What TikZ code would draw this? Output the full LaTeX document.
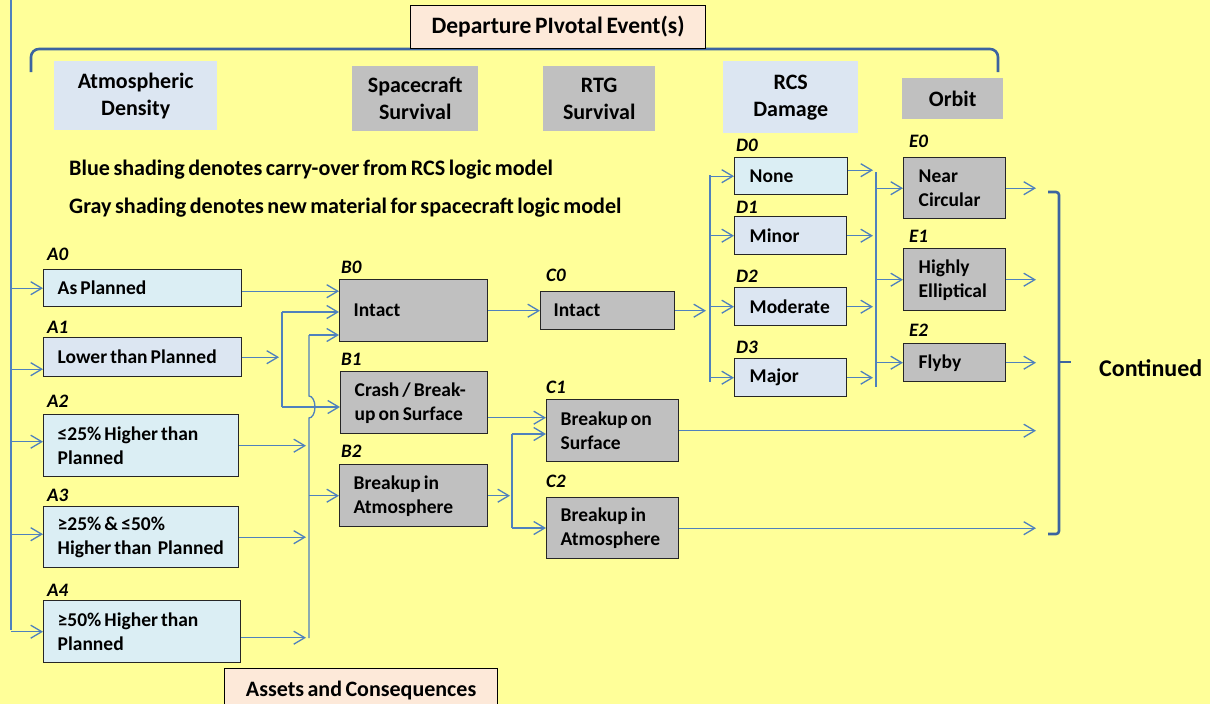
\documentclass[tikz,border=0pt]{standalone}
\usepackage{fontspec}
\setmainfont{Carlito}[WordSpace=0.7]
\usetikzlibrary{arrows.meta,calc}
\definecolor{bgyel}{RGB}{255,255,153}
\definecolor{lblue}{RGB}{219,238,244}
\definecolor{lblueb}{RGB}{220,230,242}
\definecolor{gfill}{RGB}{192,192,192}
\definecolor{peach}{RGB}{253,233,217}
\definecolor{conn}{RGB}{79,129,189}
\definecolor{brk}{RGB}{60,100,160}
\newcommand\myboxfont{\fontsize{19.5}{24}\selectfont\bfseries}
\newcommand\mylabfont{\fontsize{19}{20}\selectfont\bfseries\itshape}
\newcommand\myhdfont{\fontsize{22}{27}\selectfont\bfseries}
\newcommand\mylegfont{\fontsize{22.1}{24}\selectfont\bfseries}
\tikzset{
  conn/.style={draw=conn, line width=1.3pt, -{Straight Barb[length=11pt,width=13pt]}},
  bus/.style={draw=conn, line width=1.3pt},
  brkline/.style={draw=brk, line width=2.6pt},
  bx/.style={draw=black!85, line width=1.4pt, anchor=north west, inner xsep=14pt, inner ysep=0pt, align=flush left, font=\myboxfont},
  lab/.style={anchor=base west, inner sep=0pt, font=\mylabfont},
  hd/.style={anchor=north west, inner sep=0pt, align=center, font=\myhdfont},
  pbox/.style={draw=black, line width=1.2pt, fill=peach, anchor=north west, inner sep=0pt, font=\myhdfont},
  leg/.style={anchor=west, inner sep=0pt, font=\mylegfont}
}
\begin{document}
\begin{tikzpicture}[x=1pt,y=-1pt]
\useasboundingbox (0,0) rectangle (1210,704);
\fill[bgyel] (0,0) rectangle (1210,704);

% top bracket and title box
\coordinate (T0) at (31,72);
\coordinate (T1) at (998,72);
\coordinate (Tm) at (515,49);
\draw[brkline, rounded corners=8pt] (T0) |- (Tm) -| (T1);
\node[pbox, minimum width=295pt, minimum height=43pt, font=\fontsize{23.5}{27}\selectfont\bfseries] (piv) at (410,5) {Departure PIvotal Event(s)};

% headers
\node[hd, fill=lblueb, minimum width=163pt, minimum height=69pt] (hA) at (54,61) {Atmospheric\\Density};
\node[hd, fill=gfill, minimum width=126pt, minimum height=65pt] (hB) at (352,66) {Spacecraft\\Survival};
\node[hd, fill=gfill, minimum width=112pt, minimum height=65pt] (hC) at (543,66) {RTG\\Survival};
\node[hd, fill=lblueb, minimum width=135pt, minimum height=72pt] (hD) at (723,61) {RCS\\Damage};
\node[hd, fill=gfill, minimum width=101pt, minimum height=41pt] (hE) at (902,78) {Orbit};

% legend
\node[leg] (leg1) at (69,170) {Blue shading denotes carry-over from RCS logic model};
\node[leg] (leg2) at (69,208) {Gray shading denotes new material for spacecraft logic model};

% A boxes
\node[bx, fill=lblue, minimum width=198pt, minimum height=37pt, text width=170pt] (A0) at (43,269) {As Planned};
\node[bx, fill=lblueb, minimum width=198pt, minimum height=39pt, text width=170pt] (A1) at (43,337) {Lower than Planned};
\node[bx, fill=lblue, minimum width=195pt, minimum height=62pt, text width=167pt] (A2) at (43,414) {≤25\% Higher than\\Planned};
\node[bx, fill=lblue, minimum width=195pt, minimum height=61pt, text width=167pt] (A3) at (43,506) {≥25\% \& ≤50\%\\Higher than\hspace{3pt} Planned};
\node[bx, fill=lblue, minimum width=197pt, minimum height=62pt, text width=169pt] (A4) at (43,600) {≥50\% Higher than\\Planned};
\node[lab] (lA0) at (47,260) {A0};
\node[lab] (lA1) at (47,333) {A1};
\node[lab] (lA2) at (47,407) {A2};
\node[lab] (lA3) at (47,501) {A3};
\node[lab] (lA4) at (47,596) {A4};

% B boxes
\node[bx, fill=gfill, minimum width=148pt, minimum height=62pt, text width=120pt] (B0) at (339,279) {Intact};
\node[bx, fill=gfill, minimum width=147pt, minimum height=62pt, text width=119pt] (B1) at (340,371) {Crash / Break-\\up on Surface};
\node[bx, fill=gfill, minimum width=148pt, minimum height=62pt, text width=120pt] (B2) at (339,464) {Breakup in\\Atmosphere};
\node[lab] (lB0) at (341,273) {B0};
\node[lab] (lB1) at (341,365) {B1};
\node[lab] (lB2) at (341,457) {B2};

% C boxes
\node[bx, fill=gfill, minimum width=134pt, minimum height=38pt, text width=108pt, inner xsep=13pt] (C0) at (540,291) {Intact};
\node[bx, fill=gfill, minimum width=132pt, minimum height=62pt, text width=104pt] (C1) at (546,399) {Breakup on\\Surface};
\node[bx, fill=gfill, minimum width=132pt, minimum height=61pt, text width=104pt] (C2) at (546,497) {Breakup in\\Atmosphere};
\node[lab] (lC0) at (546,281) {C0};
\node[lab] (lC1) at (546,393) {C1};
\node[lab] (lC2) at (546,487) {C2};

% D boxes
\node[bx, fill=lblue, minimum width=113pt, minimum height=37pt, text width=83pt, inner xsep=15pt] (D0) at (734,157) {None};
\node[bx, fill=lblueb, minimum width=112pt, minimum height=38pt, text width=82pt, inner xsep=15pt] (D1) at (734,216) {Minor};
\node[bx, fill=lblueb, minimum width=112pt, minimum height=38pt, text width=82pt, inner xsep=15pt] (D2) at (734,287) {Moderate};
\node[bx, fill=lblueb, minimum width=112pt, minimum height=38pt, text width=82pt, inner xsep=15pt] (D3) at (734,358) {Major};
\node[lab] (lD0) at (736,151) {D0};
\node[lab] (lD1) at (736,213) {D1};
\node[lab] (lD2) at (736,282) {D2};
\node[lab] (lD3) at (736,353) {D3};

% E boxes
\node[bx, fill=gfill, minimum width=102pt, minimum height=61pt, text width=72pt, inner xsep=15pt] (E0) at (903,157) {Near\\Circular};
\node[bx, fill=gfill, minimum width=102pt, minimum height=62pt, text width=72pt, inner xsep=15pt] (E1) at (903,248) {Highly\\Elliptical};
\node[bx, fill=gfill, minimum width=102pt, minimum height=38pt, text width=72pt, inner xsep=15pt] (E2) at (903,343) {Flyby};
\node[lab] (lE0) at (909,147) {E0};
\node[lab] (lE1) at (909,242) {E1};
\node[lab] (lE2) at (909,336) {E2};

% bottom box and continued
\node[pbox, minimum width=273pt, minimum height=44pt] (assets) at (224,668) {Assets and Consequences};
\node[anchor=west, inner sep=0pt, font=\fontsize{24}{28}\selectfont\bfseries] (cont) at (1099,368) {Continued};

% ---- connectors ----
% left bus
\coordinate (L0) at (11,0);
\coordinate (L1) at (11,630);
\draw[bus] (L0) -- (L1);
\coordinate (a1in) at ($(A1.west)+(0,12)$);
\coordinate (a2in) at ($(A2.west)+(0,-4)$);
\coordinate (a3in) at ($(A3.west)+(0,-3)$);
\draw[conn] (L0 |- A0.west) -- (A0.west);
\draw[conn] (L0 |- a1in) -- (a1in);
\draw[conn] (L0 |- a2in) -- (a2in);
\draw[conn] (L0 |- a3in) -- (a3in);
\draw[conn] (L0 |- A4.west) -- (A4.west);

% A to B
\coordinate (b0a) at ($(B0.west)+(0,-19.5)$);
\draw[conn] (A0.east |- b0a) -- (b0a);
\coordinate (J1t) at (282,312);
\coordinate (J1b) at (282,407);
\coordinate (J1a) at (279,0);
\draw[bus] (J1t) -- (J1b);
\draw[conn] (A1.east) -- (A1.east -| J1a);
\draw[conn] (J1t) -- (J1t -| B0.west);
\draw[conn] (J1b) -- (J1b -| B1.west);
\coordinate (J2t) at (309,335);
\coordinate (J2b) at (309,638);
\coordinate (H) at (J1b -| J2t);
\draw[bus] (J2t) -- ($(H)+(0,-11)$) arc[start angle=90, end angle=-90, x radius=6pt, y radius=11pt] -- (J2b);
\coordinate (J2a) at (306,0);
\coordinate (a4o) at ($(A4.east)+(0,6)$);
\draw[conn] (A2.east) -- (A2.east -| J2a);
\draw[conn] (A3.east) -- (A3.east -| J2a);
\draw[conn] (a4o) -- (a4o -| J2a);
\draw[conn] (J2t) -- (J2t -| B0.west);
\draw[conn] (J2t |- B2.west) -- (B2.west);

% B to C
\draw[conn] (B0.east) -- (C0.west);
\coordinate (b1o) at ($(B1.east)+(0,15)$);
\draw[conn] (b1o) -- (b1o -| C1.west);
\coordinate (J3t) at (512,434);
\coordinate (J3b) at (512,528);
\coordinate (J3a) at (510,0);
\draw[bus] (J3t) -- (J3b);
\draw[conn] (B2.east) -- (B2.east -| J3a);
\draw[conn] (J3t) -- (J3t -| C1.west);
\draw[conn] (J3b) -- (J3b -| C2.west);

% C0 to D
\coordinate (J4a) at (706,0);
\coordinate (J4t) at (710,175);
\coordinate (J4b) at (710,382);
\draw[conn] (C0.east) -- (C0.east -| J4a);
\draw[bus] (J4t) -- (J4b);
\draw[conn] (J4t |- D0.west) -- (D0.west);
\draw[conn] (J4t |- D1.west) -- (D1.west);
\draw[conn] (J4t |- D2.west) -- (D2.west);
\draw[conn] (J4t |- D3.west) -- (D3.west);

% D to E
\coordinate (J5a) at (873,0);
\coordinate (J5t) at (876,172);
\coordinate (J5b) at (876,387);
\coordinate (d0o) at ($(D0.east)+(0,-6)$);
\draw[conn] (d0o) -- (d0o -| J5a);
\draw[conn] (D1.east) -- (D1.east -| J5a);
\draw[conn] (D2.east) -- (D2.east -| J5a);
\draw[conn] (D3.east) -- (D3.east -| J5a);
\draw[bus] (J5t) -- (J5b);
\draw[conn] (J5t |- E0.west) -- (E0.west);
\draw[conn] (J5t |- E1.west) -- (E1.west);
\draw[conn] (J5t |- E2.west) -- (E2.west);

% outputs
\coordinate (J6a) at (1036,0);
\draw[conn] (E0.east) -- (E0.east -| J6a);
\draw[conn] (E1.east) -- (E1.east -| J6a);
\draw[conn] (E2.east) -- (E2.east -| J6a);
\draw[conn] (C1.east) -- (C1.east -| J6a);
\draw[conn] (C2.east) -- (C2.east -| J6a);

% right bracket
\coordinate (R0) at (1048,192);
\coordinate (R1) at (1048,534);
\coordinate (RV) at (1059,362);
\coordinate (RM) at (1071,362);
\draw[brkline, rounded corners=3pt] (R0) -- (R0 -| RV) -- (R1 -| RV) -- (R1);
\draw[brkline] (RV) -- (RM);
\end{tikzpicture}
\end{document}
